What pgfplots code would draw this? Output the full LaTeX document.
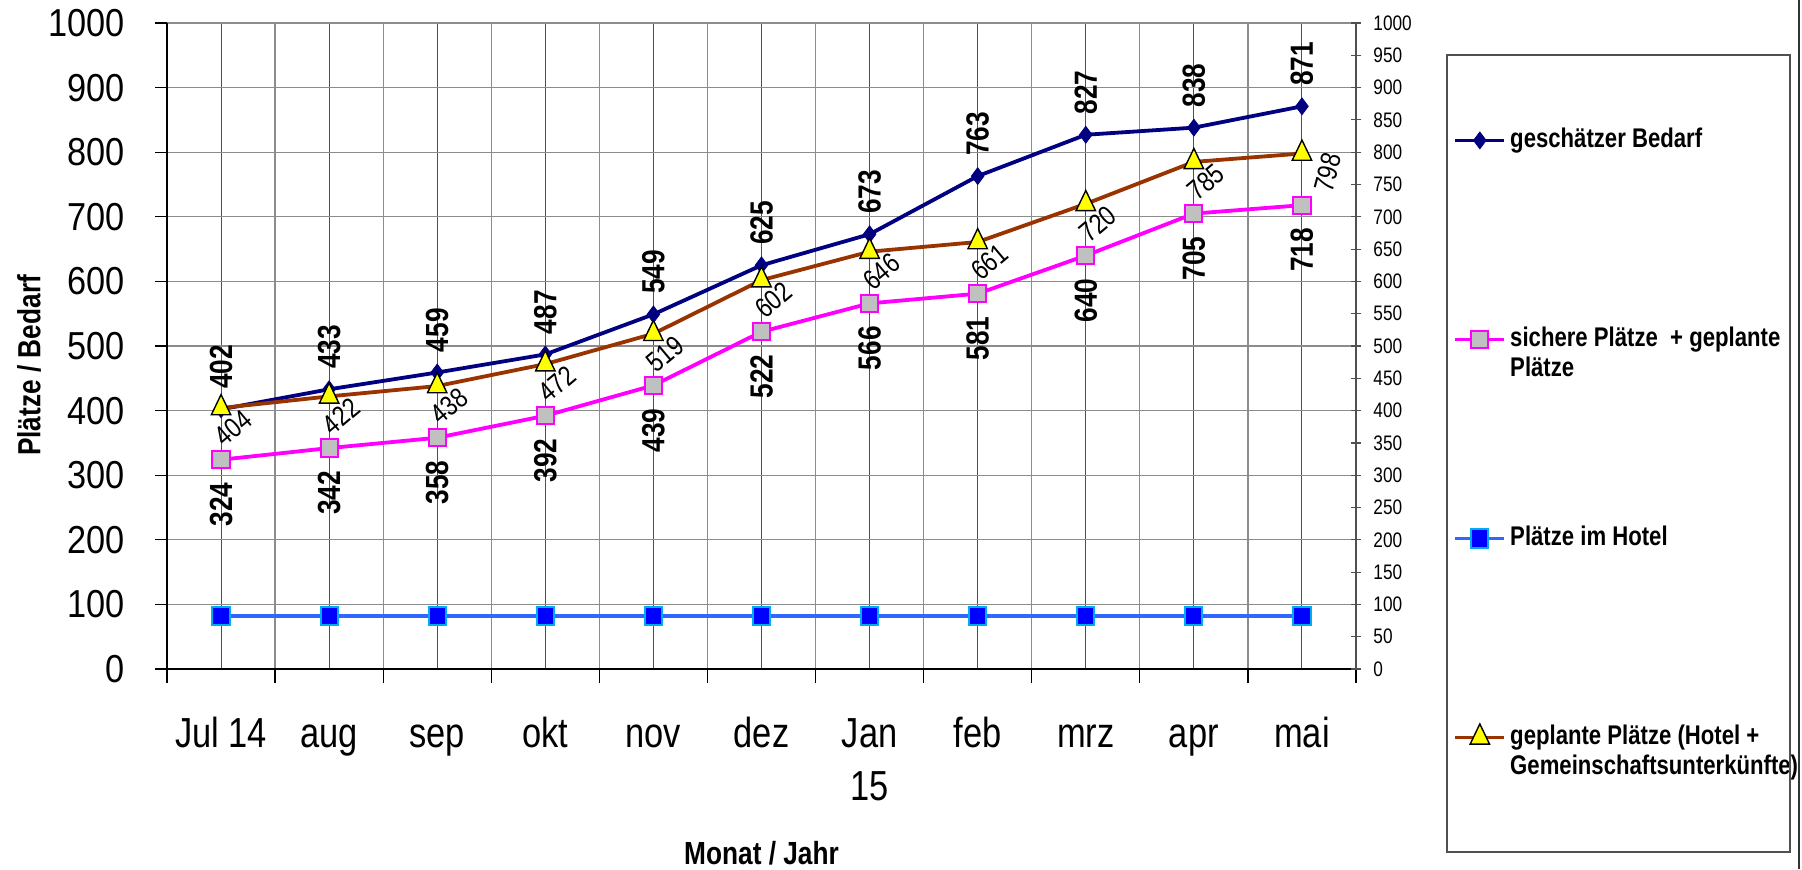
\documentclass[border=0pt]{standalone}
\usepackage{fontspec}
\setmainfont{Liberation Sans}[FakeStretch=0.82]
\newfontfamily\tickfont{Liberation Sans}[FakeStretch=0.88]
\usepackage{pgfplots}
\pgfplotsset{compat=1.18}
\usepackage{pgfplotstable}

\definecolor{navyc}{HTML}{000080}
\definecolor{magc}{HTML}{FF00FF}
\definecolor{grayc}{HTML}{C0C0C0}
\definecolor{hotelc}{HTML}{3366FF}
\definecolor{brownc}{HTML}{993300}
\definecolor{yellowc}{HTML}{FFFF00}
\definecolor{gridc}{HTML}{8C8C8C}
\definecolor{gridd}{HTML}{505050}

\pgfplotstableread{
x y
0 402
1 433
2 459
3 487
4 549
5 625
6 673
7 763
8 827
9 838
10 871
}\bedarf

\pgfplotstableread{
x y
0 324
1 342
2 358
3 392
4 439
5 522
6 566
7 581
8 640
9 705
10 718
}\sicher

\pgfplotstableread{
x y
0 82
1 82
2 82
3 82
4 82
5 82
6 82
7 82
8 82
9 82
10 82
}\hotel

\pgfplotstableread{
x y
0 404
1 422
2 438
3 472
4 519
5 602
6 646
7 661
8 720
9 785
10 798
}\geplant

\pgfplotstableread{
x y
0 404
1 422
2 438
3 472
4 519
5 602
6 646
7 661
8 720
9 785
}\geplantA

\pgfplotstableread{
x y
10 798
}\geplantB

\begin{document}
\begin{tikzpicture}
\path[use as bounding box] (-83.5pt,-100pt) rectangle (817.5pt,334.5pt);
\begin{axis}[
  at={(0,0)}, anchor=south west,
  scale only axis, width=594.5pt, height=323pt,
  xmin=-0.5, xmax=10.5, ymin=0, ymax=1000,
  axis x line*=bottom, axis y line*=left,
  axis line style={black, line width=0.8pt},
  xtick={0,...,10},
  xticklabels={Jul 14,aug,sep,okt,nov,dez,{\begin{tabular}[t]{@{}c@{}}Jan\\15\end{tabular}},feb,mrz,apr,mai},
  minor xtick={-0.5,0.5,...,10.5},
  ytick={0,100,...,1000},
  tick align=outside,
  major tick length=6pt, minor tick length=7pt,
  major x tick style={draw=none},
  minor x tick style={black, line width=0.6pt},
  major y tick style={black, line width=0.6pt},
  xmajorgrids, xminorgrids, ymajorgrids,
  major x grid style={gridd, line width=0.5pt},
  minor x grid style={gridc, line width=0.6pt},
  major y grid style={gridc, line width=0.6pt},
  /pgf/number format/1000 sep={},
  /pgf/number format/assume math mode=true,
  xticklabel style={font=\fontsize{21}{26.5}\selectfont, anchor=base, yshift=-33pt, inner sep=0pt},
  yticklabel style={font=\tickfont\fontsize{19.5}{19.5}\selectfont, anchor=east, inner sep=0pt, xshift=-15pt},
  ylabel={Plätze / Bedarf},
  ylabel style={at={(axis description cs:-0.116,0.47)}, anchor=center, font=\bfseries\fontsize{16}{16}\selectfont},
  legend style={at={(axis description cs:1.0816,0.8452)}, anchor=north west, draw=none, fill=none,
    inner sep=0pt, row sep=82.5pt, column sep=2pt,
    font=\bfseries\fontsize{13.5}{15}\selectfont,
    nodes={inner sep=0pt, text height=12pt, text depth=5pt}},
  legend cell align=left,
  legend image code/.code={\draw[mark repeat=2, mark phase=2, #1] plot coordinates {(0pt,0pt) (12.25pt,0pt) (24.5pt,0pt)};},
]
\addplot[navyc, line width=1.9pt, mark=diamond*, mark size=4.2pt,
  mark options={fill=navyc, draw=navyc, line width=0.4pt},
  nodes near coords,
  every node near coord/.append style={font=\bfseries\fontsize{16}{16}\selectfont, text=black, rotate=90, anchor=west, inner xsep=10pt, inner ysep=0pt}]
  table[x=x, y=y] {\bedarf};
\addlegendentry{geschätzer Bedarf}

\addplot[magc, line width=1.9pt, mark=square*, mark size=4.3pt,
  mark options={fill=grayc, draw=magc, line width=1pt}, 
  nodes near coords,
  every node near coord/.append style={font=\bfseries\fontsize{16}{16}\selectfont, text=black, rotate=90, anchor=east, inner xsep=11pt, inner ysep=0pt}]
  table[x=x, y=y] {\sicher};
\addlegendentry{\smash{\begin{tabular}[t]{@{}l@{}}sichere Plätze\ \ + geplante\\Plätze\end{tabular}}}

\addplot[hotelc, line width=1.9pt, mark=square*, mark size=4.3pt,
  mark options={fill=blue, draw=cyan, line width=1pt, yscale=1.1}]
  table[x=x, y=y] {\hotel};
\addlegendentry{Plätze im Hotel}

\addplot[brownc, line width=1.9pt, mark=triangle*, mark size=5.6pt,
  mark options={fill=yellowc, draw=black, line width=0.7pt, yscale=1.2}]
  table[x=x, y=y] {\geplant};
\addlegendentry{\smash{\begin{tabular}[t]{@{}l@{}}geplante Plätze (Hotel +\\Gemeinschaftsunterkünfte)\end{tabular}}}

\addplot[draw=none, forget plot, nodes near coords,
  every node near coord/.append style={font=\fontsize{14}{14}\selectfont, text=black, xshift=6pt, yshift=-10pt, rotate=40, anchor=center, inner sep=0pt}]
  table[x=x, y=y] {\geplantA};
\addplot[draw=none, forget plot, nodes near coords,
  every node near coord/.append style={font=\fontsize{14}{14}\selectfont, text=black, xshift=13pt, yshift=-9.5pt, rotate=75, anchor=center, inner sep=0pt}]
  table[x=x, y=y] {\geplantB};
\end{axis}

\begin{axis}[
  at={(0,0)}, anchor=south west,
  scale only axis, width=594.5pt, height=323pt,
  xmin=-0.5, xmax=10.5, ymin=0, ymax=1000,
  axis x line=none, axis y line*=right,
  y axis line style={gridd, line width=1pt},
  ytick={0,50,...,1000},
  tick align=center, major tick length=5pt,
  major y tick style={gridd, line width=0.6pt},
  /pgf/number format/1000 sep={},
  /pgf/number format/assume math mode=true,
  yticklabel style={font=\fontsize{10.5}{10.5}\selectfont, anchor=west, inner sep=0pt, xshift=6pt},
]
\end{axis}

\node[anchor=base, inner sep=0pt, font=\bfseries\fontsize{16}{16}\selectfont] at (297.25pt,-97.5pt) {Monat / Jahr};
\draw[gridd, line width=1pt] (640pt,307pt) rectangle (811.5pt,-91.5pt);
\draw[black!80, line width=1.2pt] (816pt,-100pt) -- (816pt,334.5pt);
\end{tikzpicture}
\end{document}
